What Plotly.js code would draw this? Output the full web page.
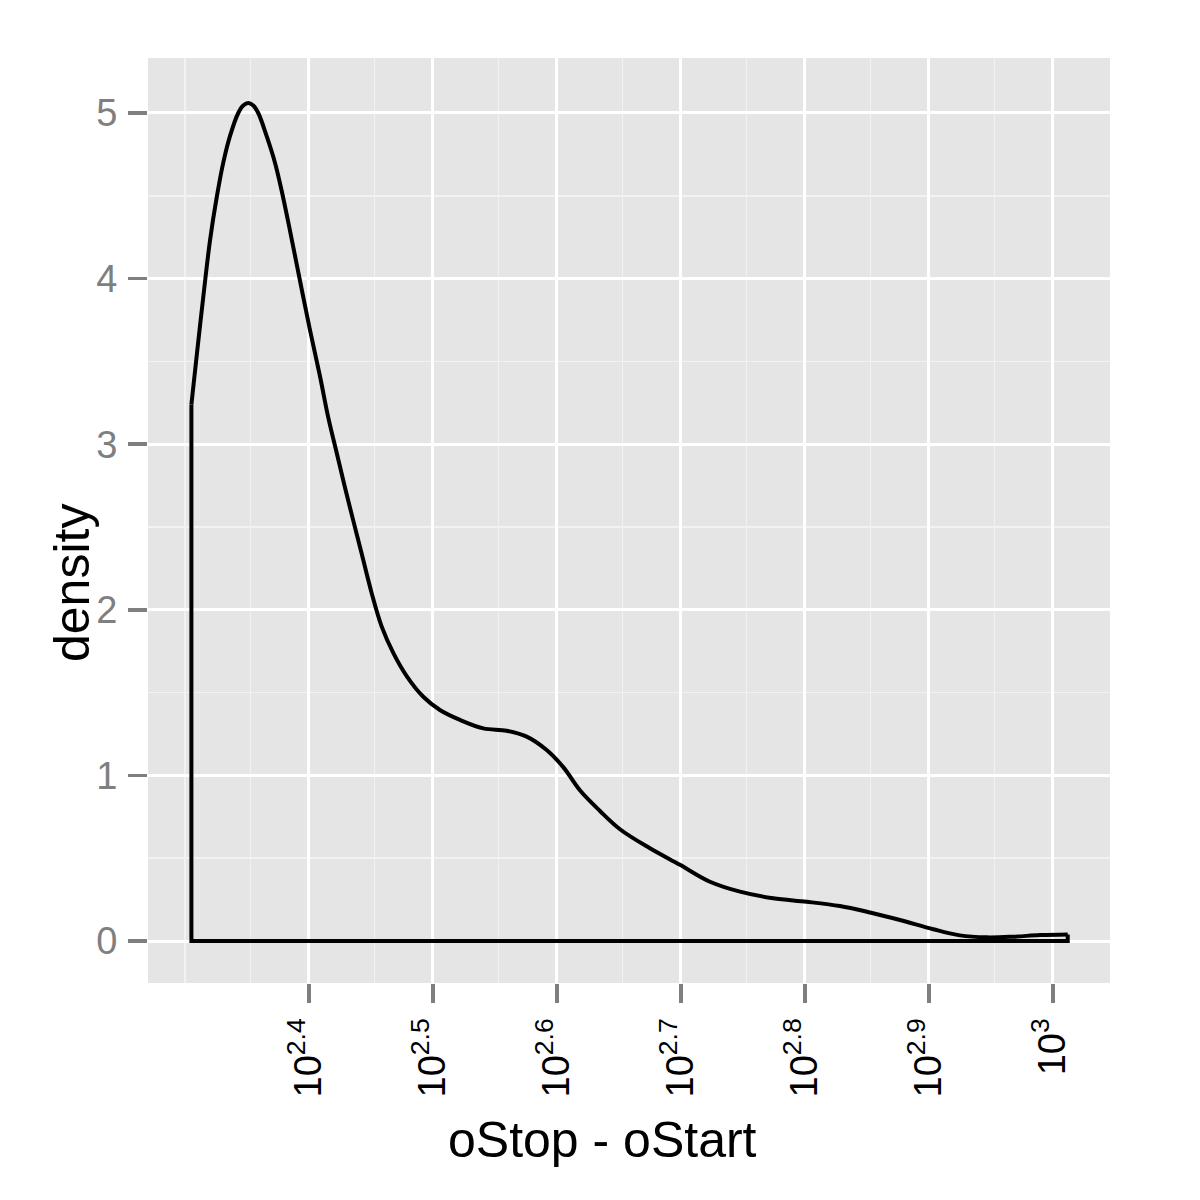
<!DOCTYPE html>
<html>
<head>
<meta charset="utf-8">
<script src="https://cdn.plot.ly/plotly-3.0.1.min.js"></script>
<style>html,body{margin:0;padding:0;background:#fff;}#chart{width:1200px;height:1200px;}</style>
</head>
<body>
<div id="chart"></div>
<script>
// log10(oStop - oStart) sample points of the density curve
const logLength = [2.3052, 2.3094, 2.3148, 2.3202, 2.3256, 2.3309, 2.3363, 2.3430, 2.3470, 2.3510,
  2.3551, 2.3591, 2.3659, 2.3726, 2.3780, 2.3847, 2.3927, 2.4008, 2.4089, 2.4156,
  2.4223, 2.4290, 2.4357, 2.4425, 2.4506, 2.4586, 2.4680, 2.4788, 2.4922, 2.5056,
  2.5218, 2.5406, 2.5594, 2.5756, 2.5917, 2.6051, 2.6185, 2.6347, 2.6508, 2.6750,
  2.6992, 2.7234, 2.7476, 2.7744, 2.8014, 2.8282, 2.8498, 2.8766, 2.9035, 2.9250,
  2.9465, 2.9680, 2.9895, 3.0119];
const density = [3.24, 3.53, 3.89, 4.23, 4.49, 4.70, 4.86, 5.00, 5.045, 5.06,
  5.045, 5.00, 4.86, 4.70, 4.53, 4.29, 3.99, 3.69, 3.41, 3.16,
  2.95, 2.74, 2.54, 2.34, 2.10, 1.90, 1.74, 1.60, 1.475, 1.395,
  1.335, 1.284, 1.27, 1.234, 1.153, 1.05, 0.91, 0.785, 0.675, 0.56,
  0.46, 0.358, 0.298, 0.258, 0.237, 0.211, 0.177, 0.127, 0.071, 0.034,
  0.022, 0.026, 0.036, 0.04];
const xTickExponents = [2.4, 2.5, 2.6, 2.7, 2.8, 2.9, 3];
const xTickLabels = ["10<sup>2.4</sup>", "10<sup>2.5</sup>", "10<sup>2.6</sup>", "10<sup>2.7</sup>",
  "10<sup>2.8</sup>", "10<sup>2.9</sup>", "10<sup>3</sup>"];
const xMinorExponents = [2.3, 2.3528, 2.4528, 2.5528, 2.6528, 2.7528, 2.8528, 2.9528];
const yTicks = [0, 1, 2, 3, 4, 5];
const yMinor = [0.5, 1.5, 2.5, 3.5, 4.5];

const pw = v => Math.pow(10, v);
const xs = logLength.map(pw);
const n = xs.length;

// closing path: right edge down to 0, baseline back, left edge up
const closeX = [xs[n - 1], xs[n - 1], xs[0], xs[0]];
const closeY = [density[n - 1], 0, 0, density[0]];

const lineStyle = {color: '#000000', width: 4};
const traces = [
  {x: xs, y: density, type: 'scatter', mode: 'lines', line: Object.assign({shape: 'spline', smoothing: 1}, lineStyle), hoverinfo: 'skip'},
  {x: closeX, y: closeY, type: 'scatter', mode: 'lines', line: Object.assign({shape: 'linear'}, lineStyle), hoverinfo: 'skip'}
];

const font = 'Liberation Sans, Arial, Helvetica, sans-serif';
const layout = {
  width: 1200, height: 1200,
  paper_bgcolor: '#FFFFFF', plot_bgcolor: '#E5E5E5',
  margin: {l: 148, r: 90, t: 58, b: 217},
  showlegend: false,
  font: {family: font},
  xaxis: {
    type: 'log', range: [2.2702, 3.0460],
    tickmode: 'array', tickvals: xTickExponents.map(pw), ticktext: xTickLabels,
    tickangle: -90, ticks: 'outside', ticklen: 19, tickwidth: 3.5, tickcolor: '#7F7F7F',
    tickfont: {family: font, size: 38, color: '#000000'},
    showgrid: true, gridcolor: '#FFFFFF', gridwidth: 3, zeroline: false, showline: false,
    minor: {tickmode: 'array', tickvals: xMinorExponents.map(pw), showgrid: true, gridcolor: '#F2F2F2', gridwidth: 1.5, ticks: ''}
  },
  yaxis: {
    range: [-0.2536, 5.332],
    tickmode: 'array', tickvals: yTicks, ticktext: yTicks.map(String),
    ticks: 'outside', ticklen: 19, tickwidth: 3.5, tickcolor: '#7F7F7F', ticklabelstandoff: 3,
    tickfont: {family: font, size: 38, color: '#7F7F7F'},
    showgrid: true, gridcolor: '#FFFFFF', gridwidth: 3, zeroline: false, showline: false,
    minor: {tickmode: 'array', tickvals: yMinor, showgrid: true, gridcolor: '#F2F2F2', gridwidth: 1.5, ticks: ''}
  },
  annotations: [
    {text: 'oStop - oStart', xref: 'paper', yref: 'paper', x: (602 - 148) / 962, y: -(1140 - 983) / 925,
     xanchor: 'center', yanchor: 'middle', showarrow: false, font: {family: font, size: 50, color: '#000000'}},
    {text: 'density', xref: 'paper', yref: 'paper', x: -(148 - 72) / 962, y: (983 - 583) / 925,
     xanchor: 'center', yanchor: 'middle', textangle: -90, showarrow: false, font: {family: font, size: 50, color: '#000000'}}
  ]
};

Plotly.newPlot('chart', traces, layout, {staticPlot: true, displayModeBar: false});
</script>
</body>
</html>
